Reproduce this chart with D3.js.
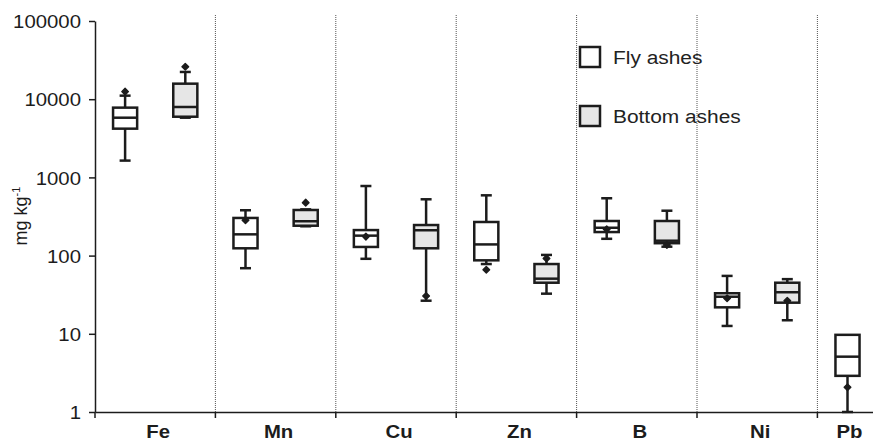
<!DOCTYPE html>
<html>
<head>
<meta charset="utf-8">
<script src="https://cdn.jsdelivr.net/npm/d3@7"></script>
<style>
  html, body { margin: 0; padding: 0; background: #fff; }
  svg { display: block; font-family: "Liberation Sans", Arial, sans-serif; }
</style>
</head>
<body>
<svg id="chart" width="873" height="441"></svg>
<script>
// Trace elements in ashes, mg kg-1 (log scale)
const elements = ["Fe", "Mn", "Cu", "Zn", "B", "Ni", "Pb"];

// Fly ashes: whisker ends, quartiles, median and the marked point
const flyMin    = [1640, 69, 91, 78, 164, 12.6, 1];
const flyQ1     = [4200, 124, 129, 87, 200, 21.8, 2.9];
const flyMedian = [5800, 187, 180, 139, 227, 29.8, 5.1];
const flyQ3     = [7800, 303, 212, 269, 277, 33, 9.7];
const flyMax    = [11100, 380, 776, 590, 541, 55, 9.7];
const flyPoint  = [12500, 283, 175, 66, 217, 28.5, 2.07];

// Bottom ashes (no Pb values)
const bottomMin    = [5800, 237, 26.5, 32.6, 130, 14.9, null];
const bottomQ1     = [5970, 241, 124, 45, 144, 25, null];
const bottomMedian = [7950, 275, 211, 50.7, 155, 34, null];
const bottomQ3     = [15800, 383, 246, 78, 277, 45, null];
const bottomMax    = [22300, 390, 525, 102, 375, 50, null];
const bottomPoint  = [26000, 475, 30.4, 92, 137, 26.5, null];

const yTicks = [1, 10, 100, 1000, 10000, 100000];
const seriesNames = ["Fly ashes", "Bottom ashes"];

const ink = "#1c1c1c";
const fills = ["#ffffff", "#e6e6e6"];
const stretch = "scale(1.1,1)";

const svg = d3.select("#chart");
const plotLeft = 95, plotTop = 21, plotBottom = 412, groupStep = 120.4;

const y = d3.scaleLog().domain([1, 100000]).range([plotBottom, plotTop]);
const x = d3.scaleBand().domain(elements)
  .range([plotLeft, plotLeft + groupStep * elements.length]).paddingInner(0).paddingOuter(0);
const sub = d3.scalePoint().domain(seriesNames).range([0, x.bandwidth()]).padding(0.5);
const boxW = x.bandwidth() * 0.2;
const capW = 11;

const series = [
  { name: seriesNames[0], fill: fills[0], min: flyMin, q1: flyQ1, med: flyMedian, q3: flyQ3, max: flyMax, pt: flyPoint },
  { name: seriesNames[1], fill: fills[1], min: bottomMin, q1: bottomQ1, med: bottomMedian, q3: bottomQ3, max: bottomMax, pt: bottomPoint }
];

// dotted separators between element groups
svg.append("g").selectAll("line")
  .data(elements.slice(1))
  .join("line")
  .attr("x1", d => x(d)).attr("x2", d => x(d))
  .attr("y1", 15).attr("y2", plotBottom)
  .attr("stroke", "#555").attr("stroke-width", 1)
  .attr("stroke-dasharray", "1,1");

// y axis
const yAxis = svg.append("g")
  .attr("transform", `translate(${plotLeft},0)`)
  .call(d3.axisLeft(y).tickValues(yTicks).tickFormat(d3.format("d")).tickSize(6).tickSizeOuter(0));
yAxis.select(".domain").attr("stroke", ink).attr("stroke-width", 1.5);
yAxis.selectAll(".tick line").attr("stroke", ink).attr("stroke-width", 1.5);
yAxis.selectAll(".tick text")
  .attr("x", -14 / 1.1).attr("dy", "0.36em")
  .attr("transform", stretch)
  .attr("font-size", 18.5).attr("fill", ink)
  .attr("font-family", "'Liberation Sans', Arial, sans-serif");

// x axis line with boundary ticks
const xAxis = svg.append("g")
  .attr("transform", `translate(0,${plotBottom})`)
  .call(d3.axisBottom(x).tickValues([]).tickSizeOuter(0));
xAxis.select(".domain").attr("stroke", ink).attr("stroke-width", 1.5);
xAxis.selectAll("line.bound")
  .data(elements)
  .join("line").attr("class", "bound")
  .attr("x1", d => x(d)).attr("x2", d => x(d))
  .attr("y1", 0).attr("y2", 6)
  .attr("stroke", ink).attr("stroke-width", 1.5);

// element labels, centred over the boxes present in each group
xAxis.selectAll("g.lab")
  .data(elements)
  .join("g").attr("class", "lab")
  .attr("transform", (d, i) => {
    const present = series.filter(s => s.med[i] != null);
    const cx = d3.mean(present, s => x(d) + sub(s.name)) + (present.length > 1 ? 3 : 2);
    return `translate(${cx},26) ${stretch}`;
  })
  .append("text")
  .attr("text-anchor", "middle")
  .attr("font-size", 18.5).attr("font-weight", "bold").attr("fill", ink)
  .text(d => d);

// y axis title
const title = svg.append("text")
  .attr("transform", "translate(27,216) rotate(-90)")
  .attr("text-anchor", "middle")
  .attr("font-size", 18).attr("fill", ink);
title.append("tspan").text("mg kg");
title.append("tspan").attr("font-size", 11).attr("dy", -7).text("-1");

// boxplots
series.forEach(s => {
  const g = svg.append("g");
  const rows = elements.map((e, i) => ({ e, i })).filter(d => s.med[d.i] != null);
  const cx = d => x(d.e) + sub(s.name);

  // whiskers
  g.selectAll("line.wu").data(rows).join("line")
    .attr("x1", cx).attr("x2", cx)
    .attr("y1", d => y(s.q3[d.i])).attr("y2", d => y(s.max[d.i]))
    .attr("stroke", ink).attr("stroke-width", 2.5);
  g.selectAll("line.wl").data(rows).join("line")
    .attr("x1", cx).attr("x2", cx)
    .attr("y1", d => y(s.q1[d.i])).attr("y2", d => y(s.min[d.i]))
    .attr("stroke", ink).attr("stroke-width", 2.5);
  // caps
  g.selectAll("line.cu").data(rows.filter(d => s.max[d.i] > s.q3[d.i])).join("line")
    .attr("x1", d => cx(d) - capW / 2).attr("x2", d => cx(d) + capW / 2)
    .attr("y1", d => y(s.max[d.i])).attr("y2", d => y(s.max[d.i]))
    .attr("stroke", ink).attr("stroke-width", 2.5);
  g.selectAll("line.cl").data(rows).join("line")
    .attr("x1", d => cx(d) - capW / 2).attr("x2", d => cx(d) + capW / 2)
    .attr("y1", d => y(s.min[d.i])).attr("y2", d => y(s.min[d.i]))
    .attr("stroke", ink).attr("stroke-width", 2.5);
  // boxes
  g.selectAll("rect").data(rows).join("rect")
    .attr("x", d => cx(d) - boxW / 2).attr("width", boxW)
    .attr("y", d => y(s.q3[d.i]))
    .attr("height", d => y(s.q1[d.i]) - y(s.q3[d.i]))
    .attr("fill", s.fill).attr("stroke", ink).attr("stroke-width", 2.5);
  // medians
  g.selectAll("line.med").data(rows).join("line")
    .attr("x1", d => cx(d) - boxW / 2).attr("x2", d => cx(d) + boxW / 2)
    .attr("y1", d => y(s.med[d.i])).attr("y2", d => y(s.med[d.i]))
    .attr("stroke", ink).attr("stroke-width", 2.5);
  // marked points
  g.selectAll("path.pt").data(rows).join("path")
    .attr("d", d3.symbol(d3.symbolSquare, 22))
    .attr("transform", d => `translate(${cx(d)},${y(s.pt[d.i])}) rotate(45)`)
    .attr("fill", ink).attr("stroke", ink).attr("stroke-width", 1.4)
    .attr("stroke-linejoin", "round");
});

// legend
const legend = svg.append("g").attr("transform", "translate(580,47)");
const item = legend.selectAll("g").data(series).join("g")
  .attr("transform", (d, i) => `translate(0,${i * 59})`);
item.append("rect")
  .attr("width", 20).attr("height", 20)
  .attr("fill", d => d.fill).attr("stroke", ink).attr("stroke-width", 2.5);
item.append("g")
  .attr("transform", `translate(33,16.5) ${stretch}`)
  .append("text")
  .attr("font-size", 19).attr("fill", "#222")
  .text(d => d.name);
</script>
</body>
</html>
